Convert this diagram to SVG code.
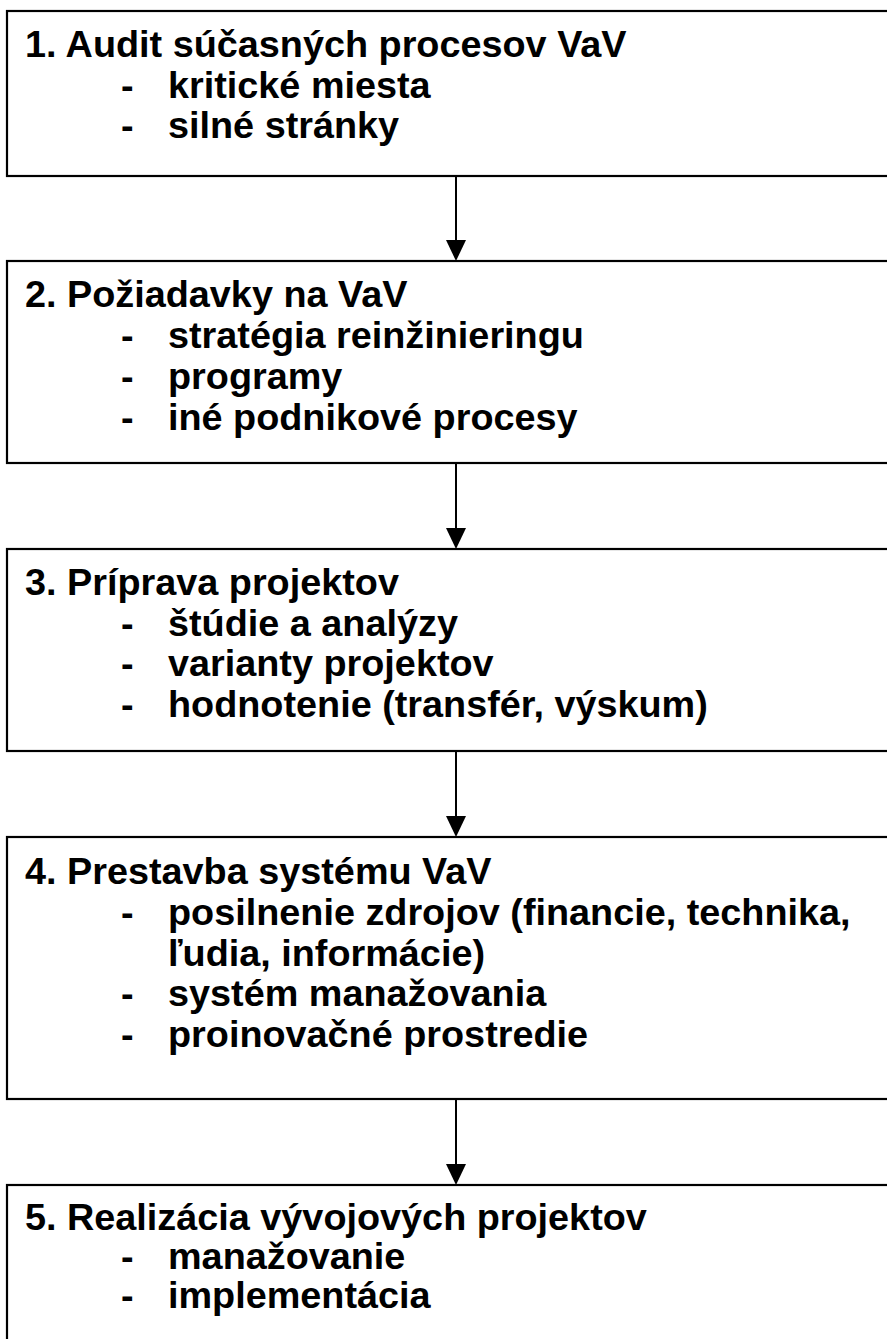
<svg xmlns="http://www.w3.org/2000/svg" width="887" height="1339" viewBox="0 0 887 1339">
  <defs>
    <style>
      .box { fill: #ffffff; stroke: #000000; stroke-width: 2.2; }
      .link { stroke: #000000; stroke-width: 2; fill: none; }
      .head { fill: #000000; stroke: none; }
      text { font-family: "Liberation Sans", Arial, sans-serif; font-weight: bold; font-size: 37.8px; fill: #000000; }
    </style>
  </defs>
  <rect width="887" height="1339" fill="#ffffff"/>

  <!-- connectors between the steps -->
  <g id="connectors">
    <line class="link" x1="456" y1="176" x2="456" y2="242"/>
    <polygon class="head" points="446,240 466,240 456,261"/>
    <line class="link" x1="456" y1="463" x2="456" y2="530"/>
    <polygon class="head" points="446,528 466,528 456,549"/>
    <line class="link" x1="456" y1="751" x2="456" y2="818"/>
    <polygon class="head" points="446,816 466,816 456,837"/>
    <line class="link" x1="456" y1="1099" x2="456" y2="1166"/>
    <polygon class="head" points="446,1164 466,1164 456,1185"/>
  </g>

  <g id="step1">
    <rect class="box" x="7" y="11" width="900" height="165"/>
    <text x="25" y="57">1. Audit súčasných procesov VaV</text>
    <text x="121" y="97.5">-</text>
    <text x="168" y="97.5">kritické miesta</text>
    <text x="121" y="138">-</text>
    <text x="168" y="138">silné stránky</text>
  </g>

  <g id="step2">
    <rect class="box" x="7" y="261" width="900" height="202"/>
    <text x="25" y="307">2. Požiadavky na VaV</text>
    <text x="121" y="348">-</text>
    <text x="168" y="348">stratégia reinžinieringu</text>
    <text x="121" y="389">-</text>
    <text x="168" y="389">programy</text>
    <text x="121" y="430">-</text>
    <text x="168" y="430">iné podnikové procesy</text>
  </g>

  <g id="step3">
    <rect class="box" x="7" y="549" width="900" height="202"/>
    <text x="25" y="595">3. Príprava projektov</text>
    <text x="121" y="635.5">-</text>
    <text x="168" y="635.5">štúdie a analýzy</text>
    <text x="121" y="676">-</text>
    <text x="168" y="676">varianty projektov</text>
    <text x="121" y="716.5">-</text>
    <text x="168" y="716.5">hodnotenie (transfér, výskum)</text>
  </g>

  <g id="step4">
    <rect class="box" x="7" y="837" width="900" height="262"/>
    <text x="25" y="884">4. Prestavba systému VaV</text>
    <text x="121" y="925">-</text>
    <text x="168" y="925">posilnenie zdrojov (financie, technika,</text>
    <text x="168" y="965.5">ľudia, informácie)</text>
    <text x="121" y="1006">-</text>
    <text x="168" y="1006">systém manažovania</text>
    <text x="121" y="1046.5">-</text>
    <text x="168" y="1046.5">proinovačné prostredie</text>
  </g>

  <g id="step5">
    <rect class="box" x="7" y="1185" width="900" height="200"/>
    <text x="25" y="1230">5. Realizácia vývojových projektov</text>
    <text x="121" y="1269">-</text>
    <text x="168" y="1269">manažovanie</text>
    <text x="121" y="1308">-</text>
    <text x="168" y="1308">implementácia</text>
  </g>
</svg>
